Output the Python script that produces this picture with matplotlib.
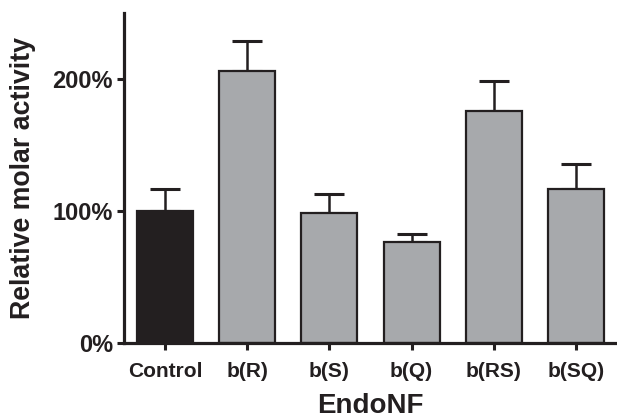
import matplotlib
matplotlib.use("Agg")
import matplotlib.pyplot as plt
from matplotlib.ticker import FuncFormatter

categories = ["Control", "b(R)", "b(S)", "b(Q)", "b(RS)", "b(SQ)"]
values = [100, 206, 98.5, 76.6, 176, 116.6]
err_upper = [16.6, 22.9, 14.0, 5.6, 22.2, 18.7]
bar_colors = ["#231f20", "#a7a9ac", "#a7a9ac", "#a7a9ac", "#a7a9ac", "#a7a9ac"]
y_ticks = [0, 100, 200]

plt.rcParams['font.family'] = ['Liberation Sans', 'DejaVu Sans']
plt.rcParams['font.weight'] = 'bold'

fig = plt.figure(figsize=(6.17, 4.17), dpi=100)
ax = fig.add_axes([0.201, 0.1775, 0.799, 0.7915])

x = list(range(len(categories)))
ax.bar(x, values, width=0.68, color=bar_colors, edgecolor="#231f20",
       linewidth=1.6, zorder=2)
ax.errorbar(x, values, yerr=[[0]*len(values), err_upper], fmt='none',
            ecolor="#231f20", elinewidth=1.8, capsize=10.5, capthick=2.2, zorder=1)

ax.set_xlim(-0.5, 5.5)
ax.set_ylim(0, 250)
ax.set_xticks(x)
ax.set_xticklabels(categories, fontsize=15, fontweight='bold', color="#231f20")
ax.set_yticks(y_ticks)
ax.yaxis.set_major_formatter(FuncFormatter(lambda v, p: f"{int(v)}%"))
for lab in ax.get_yticklabels():
    lab.set_fontsize(17)
    lab.set_fontweight('bold')
    lab.set_color("#231f20")

for s in ["top", "right"]:
    ax.spines[s].set_visible(False)
for s in ["left", "bottom"]:
    ax.spines[s].set_linewidth(2.3)
    ax.spines[s].set_color("#231f20")

ax.tick_params(axis='x', length=5, width=2.2, pad=9, color="#231f20")
ax.tick_params(axis='y', length=5, width=2.2, pad=3, color="#231f20")

ax.set_ylabel("Relative molar activity", fontsize=19.3, fontweight='bold',
              color="#231f20", labelpad=12)
ax.set_xlabel("EndoNF", fontsize=20, fontweight='bold', color="#231f20", labelpad=8)

fig.savefig("out.png", dpi=100)
